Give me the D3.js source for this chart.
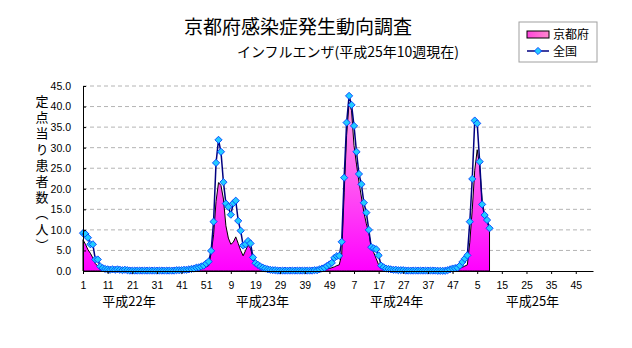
<!DOCTYPE html>
<html lang="ja">
<head>
<meta charset="UTF-8">
<title>京都府感染症発生動向調査</title>
<style>
  body { margin: 0; background: #fff; }
  svg { display: block; }
  .jp { font-family: "Noto Sans CJK JP", sans-serif; fill: #000; }
  .vertical { writing-mode: vertical-rl; letter-spacing: 3px; }
  .axis text { font-family: "Liberation Sans", Arial, sans-serif; font-size: 10.5px; fill: #000; }
  .axis path, .axis line { stroke: #000; }
</style>
</head>
<body>
<div id="chart"></div>
<script src="https://d3js.org/d3.v7.min.js"></script>
<script>
// weeks on the axis: four years of 52 weeks each
const yearNames = ["平成22年", "平成23年", "平成24年", "平成25年"];
const weeksPerYear = [52, 52, 52, 52];
// where each year caption sits, in week index from the first week
const yearCaptionAt = [18.7, 72.8, 127.3, 182.4];

// 全国 (per sentinel), 平成22年〜平成25年10週
const national22 = [9.2, 9.0, 8.1, 6.5, 6.5, 2.8, 2.8, 1.1, 0.7, 0.5,
  0.4, 0.3, 0.4, 0.3, 0.4, 0.3, 0.2, 0.3, 0.2, 0.1,
  0.1, 0.1, 0.1, 0.1, 0.1, 0.1, 0.1, 0.1, 0.1, 0.1,
  0.1, 0.1, 0.1, 0.1, 0.1, 0.1, 0.1, 0.1, 0.2, 0.2,
  0.2, 0.3, 0.3, 0.4, 0.5, 0.6, 0.8, 0.9, 1.1, 1.3,
  1.8, 2.3];
const national23 = [4.9, 12.0, 26.3, 31.9, 29.0, 21.6, 16.4, 15.6, 13.7, 16.5,
  17.1, 12.2, 9.8, 6.2, 6.5, 7.3, 6.7, 3.3, 1.9, 1.5,
  1.1, 0.8, 0.6, 0.4, 0.3, 0.2, 0.2, 0.1, 0.1, 0.1,
  0.1, 0.1, 0.1, 0.1, 0.1, 0.1, 0.1, 0.1, 0.1, 0.1,
  0.1, 0.1, 0.2, 0.2, 0.4, 0.6, 0.8, 1.2, 1.6, 2.0,
  3.2, 3.6];
const national24 = [3.7, 7.1, 22.7, 36.1, 42.6, 40.4, 35.3, 29.0, 23.6, 21.1,
  16.6, 14.2, 10.0, 5.8, 5.5, 5.3, 3.8, 1.3, 0.9, 0.6,
  0.5, 0.4, 0.3, 0.3, 0.2, 0.2, 0.2, 0.1, 0.1, 0.1,
  0.1, 0.1, 0.1, 0.1, 0.1, 0.1, 0.1, 0.1, 0.1, 0.1,
  0.05, 0.05, 0.05, 0.05, 0.2, 0.4, 0.6, 0.7, 0.8, 1.3,
  2.2, 3.0];
const national25 = [3.8, 12.0, 22.4, 36.6, 35.9, 26.6, 16.2, 13.6, 12.4, 10.4];

// 京都府 (per sentinel)
const kyoto22 = [7.6, 6.5, 5.2, 4.3, 3.2, 1.8, 1.2, 0.8, 0.5, 0.3,
  0.2, 0.2, 0.1, 0.1, 0.1, 0.1, 0.1, 0.1, 0.1, 0.0,
  0.0, 0.0, 0.0, 0.0, 0.0, 0.0, 0.0, 0.0, 0.0, 0.0,
  0.0, 0.0, 0.0, 0.0, 0.0, 0.0, 0.0, 0.0, 0.0, 0.1,
  0.1, 0.1, 0.1, 0.2, 0.2, 0.3, 0.3, 0.4, 0.5, 0.7,
  1.0, 1.3];
const kyoto23 = [4.3, 8.8, 16.9, 21.5, 20.8, 17.5, 11.0, 8.0, 6.5, 7.0,
  8.3, 6.7, 5.0, 3.7, 5.0, 6.3, 5.5, 3.2, 1.8, 1.2,
  0.8, 0.5, 0.3, 0.2, 0.1, 0.1, 0.0, 0.0, 0.0, 0.0,
  0.0, 0.0, 0.0, 0.0, 0.0, 0.0, 0.0, 0.0, 0.0, 0.0,
  0.0, 0.1, 0.1, 0.1, 0.2, 0.3, 0.4, 0.5, 0.6, 0.8,
  1.0, 1.3];
const kyoto24 = [1.5, 4.0, 19.0, 33.0, 41.0, 39.0, 30.5, 26.0, 21.7, 18.0,
  14.3, 11.5, 9.3, 5.8, 4.5, 3.0, 1.5, 0.8, 0.5, 0.3,
  0.2, 0.2, 0.1, 0.1, 0.1, 0.0, 0.0, 0.0, 0.0, 0.0,
  0.0, 0.0, 0.0, 0.0, 0.0, 0.0, 0.0, 0.0, 0.0, 0.0,
  0.0, 0.0, 0.0, 0.1, 0.1, 0.2, 0.3, 0.4, 0.5, 0.7,
  0.9, 1.2];
const kyoto25 = [1.5, 7.0, 15.0, 24.5, 29.5, 25.5, 17.0, 13.5, 12.0, 10.3];

const yTicks = [0, 5, 10, 15, 20, 25, 30, 35, 40, 45];

// week number (within its year) for every slot on the axis
const weekOf = weeksPerYear.flatMap(n => d3.range(1, n + 1));
const nWeeks = weekOf.length;

const national = [...national22, ...national23, ...national24, ...national25]
  .map((v, i) => ({ i, v }));
const kyoto = [...kyoto22, ...kyoto23, ...kyoto24, ...kyoto25]
  .map((v, i) => ({ i, v }));

const width = 632, height = 348;
const plot = { left: 83, right: 593, top: 86, bottom: 271 };

const svg = d3.select("#chart").append("svg")
  .attr("width", width)
  .attr("height", height);

const x = d3.scaleLinear().domain([0, nWeeks - 1]).range([plot.left, plot.right]);
const y = d3.scaleLinear().domain([0, 45]).range([plot.bottom, plot.top]);

// pink-to-magenta fill for the prefecture area
const defs = svg.append("defs");
const grad = defs.append("linearGradient")
  .attr("id", "kyotoFill")
  .attr("gradientUnits", "userSpaceOnUse")
  .attr("x1", 0).attr("x2", 0)
  .attr("y1", y(45)).attr("y2", y(0));
grad.append("stop").attr("offset", "0%").attr("stop-color", "#ffb4e4");
grad.append("stop").attr("offset", "100%").attr("stop-color", "#ff00ff");

const legGrad = defs.append("linearGradient").attr("id", "legendFill");
legGrad.append("stop").attr("offset", "0%").attr("stop-color", "#ff44dd");
legGrad.append("stop").attr("offset", "100%").attr("stop-color", "#ff88cc");

// titles
svg.append("text").attr("class", "jp")
  .attr("x", 298).attr("y", 34)
  .attr("text-anchor", "middle")
  .style("font-size", "19px")
  .text("京都府感染症発生動向調査");
svg.append("text").attr("class", "jp")
  .attr("x", 348).attr("y", 57)
  .attr("text-anchor", "middle")
  .style("font-size", "14px")
  .text("インフルエンザ(平成25年10週現在)");

// dashed gridlines
svg.append("g")
  .selectAll("line")
  .data(yTicks.filter(d => d > 0))
  .join("line")
  .attr("x1", plot.left).attr("x2", plot.right)
  .attr("y1", d => y(d)).attr("y2", d => y(d))
  .attr("stroke", "#b4b4b4")
  .attr("stroke-dasharray", "4,3");

// 京都府 area
const area = d3.area()
  .x(d => x(d.i))
  .y0(y(0))
  .y1(d => y(d.v));
svg.append("path")
  .datum(kyoto)
  .attr("d", area)
  .attr("fill", "url(#kyotoFill)")
  .attr("stroke", "#000")
  .attr("stroke-width", 1);

// 全国 line with diamond markers
const line = d3.line()
  .x(d => x(d.i))
  .y(d => y(d.v));
svg.append("path")
  .datum(national)
  .attr("d", line)
  .attr("fill", "none")
  .attr("stroke", "#000080")
  .attr("stroke-width", 1.5);

const diamond = "M0,-3.6L3.6,0L0,3.6L-3.6,0Z";
svg.append("g")
  .selectAll("path")
  .data(national)
  .join("path")
  .attr("transform", d => `translate(${x(d.i)},${y(d.v)})`)
  .attr("d", diamond)
  .attr("fill", "#22ccff")
  .attr("stroke", "#0040ff")
  .attr("stroke-width", 0.9);

// axes
svg.append("g")
  .attr("class", "axis")
  .attr("transform", `translate(${plot.left},0)`)
  .call(d3.axisLeft(y)
    .tickValues(yTicks)
    .tickFormat(d3.format(".1f"))
    .tickSize(-3)
    .tickPadding(12));

svg.append("g")
  .attr("class", "axis")
  .attr("transform", `translate(0,${plot.bottom})`)
  .call(d3.axisBottom(x)
    .tickValues(d3.range(0, nWeeks, 10))
    .tickFormat(i => weekOf[i])
    .tickSizeInner(3)
    .tickSizeOuter(0)
    .tickPadding(8));

// year captions under the week numbers
svg.append("g")
  .selectAll("text")
  .data(yearNames)
  .join("text")
  .attr("class", "jp")
  .attr("x", (d, k) => x(yearCaptionAt[k]))
  .attr("y", 306)
  .attr("text-anchor", "middle")
  .style("font-size", "13px")
  .text(d => d);

// vertical y-axis title
svg.append("text")
  .attr("class", "jp vertical")
  .attr("x", 42)
  .attr("y", 95)
  .style("font-size", "13px")
  .text("定点当り患者数（人）");

// legend
const leg = svg.append("g").attr("transform", "translate(519,22)");
leg.append("rect")
  .attr("width", 78).attr("height", 40)
  .attr("fill", "#fff")
  .attr("stroke", "#a0a0a0");
leg.append("rect")
  .attr("x", 8).attr("y", 9)
  .attr("width", 22).attr("height", 7)
  .attr("fill", "url(#legendFill)")
  .attr("stroke", "#000");
leg.append("text").attr("class", "jp")
  .attr("x", 34).attr("y", 17)
  .style("font-size", "12px")
  .text("京都府");
leg.append("line")
  .attr("x1", 8).attr("x2", 30)
  .attr("y1", 29).attr("y2", 29)
  .attr("stroke", "#000080")
  .attr("stroke-width", 1.5);
leg.append("path")
  .attr("transform", "translate(19,29)")
  .attr("d", diamond)
  .attr("fill", "#22ccff")
  .attr("stroke", "#0040ff")
  .attr("stroke-width", 0.9);
leg.append("text").attr("class", "jp")
  .attr("x", 34).attr("y", 34)
  .style("font-size", "12px")
  .text("全国");
</script>
</body>
</html>
